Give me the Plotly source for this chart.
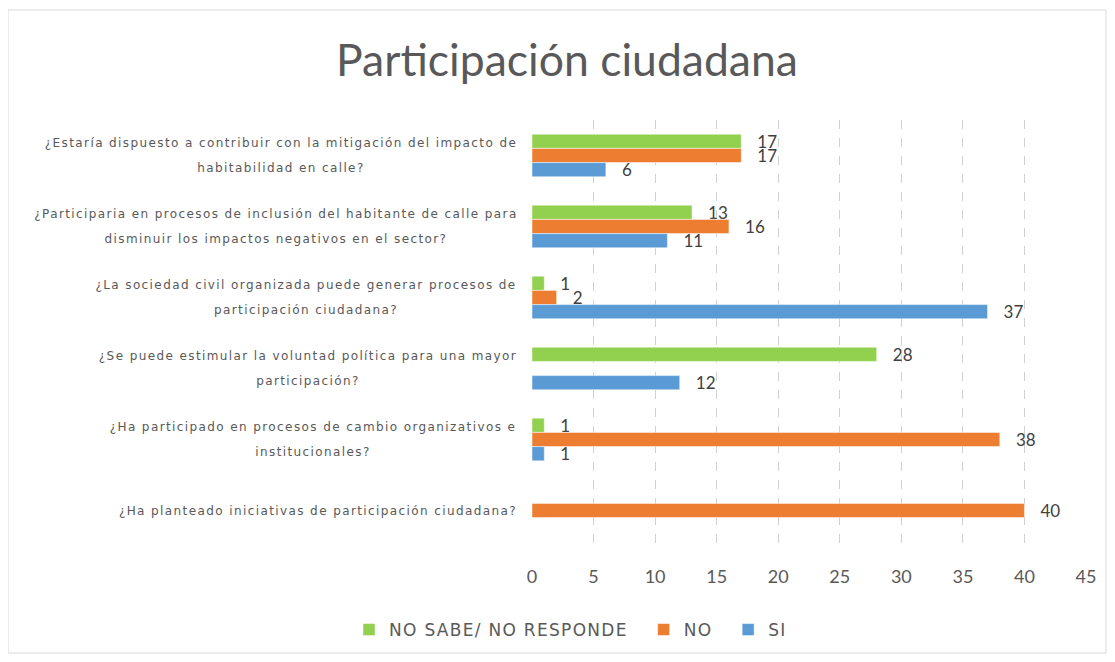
import plotly.graph_objects as go

categories = [
    "¿Estaría dispuesto a contribuir con la mitigación del impacto de<br>habitabilidad en calle?",
    "¿Participaria en procesos de inclusión del habitante de calle para<br>disminuir los impactos negativos en el sector?",
    "¿La sociedad civil organizada puede generar procesos de<br>participación ciudadana?",
    "¿Se puede estimular la voluntad política para una mayor<br>participación?",
    "¿Ha participado en procesos de cambio organizativos e<br>institucionales?",
    "¿Ha planteado iniciativas de participación ciudadana?",
]
no_sabe = [17, 13, 1, 28, 1, None]
no = [17, 16, 2, None, 38, 40]
si = [6, 11, 37, 12, 1, None]

series = [
    ("NO SABE/ NO RESPONDE", no_sabe, "#92D050"),
    ("NO", no, "#ED7D31"),
    ("SI", si, "#5B9BD5"),
]

# layout-only: width of the centring box for each category label (px)
label_box_w = [484, 494, 434, 430, 420, 410]

FONT = "Lato, 'Open Sans', sans-serif"
LFONT = "'DejaVu Sans', sans-serif"

W, H = 1099, 646
ML, MR, MT, MB = 524, 21, 112, 108


def spaced(t, ls):
    return f'<span style="letter-spacing:{ls}px">{t}</span>'


fig = go.Figure()
for name, vals, color in series:
    fig.add_trace(go.Bar(
        y=categories, x=vals, name=spaced(name, 1.3) + "\u00a0\u00a0",
        orientation="h",
        marker=dict(color=color, line=dict(color="white", width=0.5)),
        texttemplate="\u00a0\u00a0\u00a0%{x}",
        textposition="outside", cliponaxis=False, constraintext="none",
        textfont=dict(size=17, color="#404040", family=FONT),
    ))

annotations = []
for c, bw in zip(categories, label_box_w):
    lines = c.split("<br>")
    n = len(lines)
    for i, ln in enumerate(lines):
        shift = (-(n - 1) / 2 + i) * 25
        annotations.append(dict(
            x=-0.012, xref="paper", y=c, yref="y", text=spaced(ln, 1.4),
            showarrow=False,
            xanchor="right", yanchor="middle", align="center", width=bw,
            yshift=-shift,
            font=dict(size=12, color="#595959", family=LFONT),
        ))

pw = W - ML - MR
ph = H - MT - MB
fig.update_layout(
    width=W, height=H,
    paper_bgcolor="white", plot_bgcolor="white",
    margin=dict(l=ML, r=MR, t=MT, b=MB),
    title=dict(text="Participación ciudadana", x=559 / W, xref="container", xanchor="center",
               y=1 - 52 / H, yref="container", yanchor="middle",
               font=dict(size=44.5, color="#595959", family=FONT)),
    barmode="group", bargap=0.4, bargroupgap=0,
    showlegend=True,
    legend=dict(orientation="h", x=568 / W, xref="container", xanchor="center",
                y=1 - 622 / H, yref="container", yanchor="middle",
                font=dict(size=17, color="#595959", family=LFONT),
                itemwidth=30),
    annotations=annotations,
    xaxis=dict(range=[0, 45], dtick=5, showgrid=True, gridcolor="#D0D0D0",
               griddash="dash", zeroline=False, showline=False,
               ticklabelstandoff=18,
               tickfont=dict(size=18, color="#595959", family=FONT), ticks=""),
    yaxis=dict(autorange="reversed", showticklabels=False, showgrid=False,
               zeroline=False, showline=False, ticks=""),
    shapes=[dict(type="rect", xref="paper", yref="paper",
                 x0=(0 - ML) / pw, x1=(W - 1 - ML) / pw,
                 y0=(MT + ph - (H - 1)) / ph, y1=1 + (MT - 2) / ph,
                 line=dict(color="#D9D9D9", width=1), fillcolor="rgba(0,0,0,0)",
                 layer="below")],
)

fig.write_html("out.html")
